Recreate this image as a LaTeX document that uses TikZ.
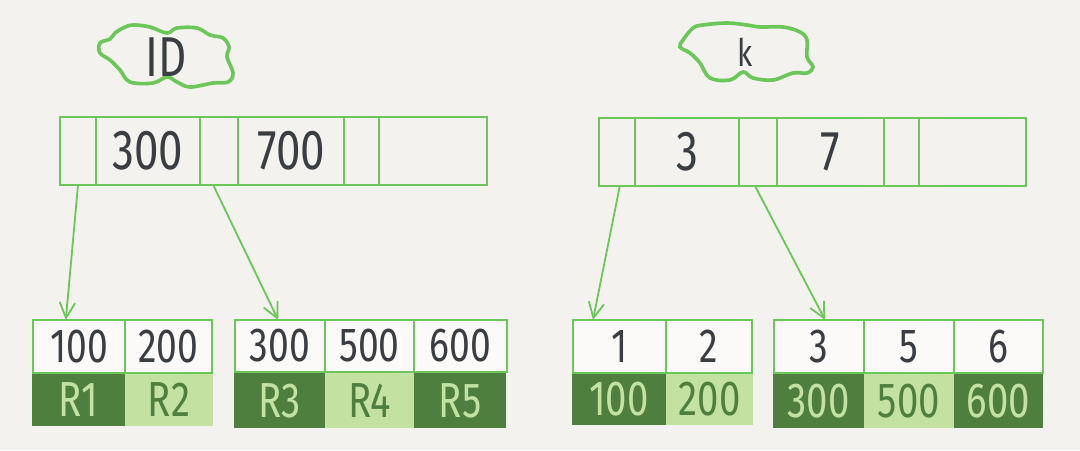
\documentclass[tikz,border=0pt]{standalone}
\usepackage{fontspec}
\setmainfont{Fira Sans}[FakeStretch=0.78]
\usetikzlibrary{arrows.meta}
\definecolor{bg}{HTML}{F4F2EE}
\definecolor{gline}{HTML}{6CC75A}
\definecolor{dgreen}{HTML}{4F7F3F}
\definecolor{lgreen}{HTML}{C3E2A2}
\definecolor{ink}{HTML}{3A3E43}
\newcommand\cellnode[7]{%
  \pgfmathsetmacro\cw{(#4-#2)*0.025}%
  \pgfmathsetmacro\ch{(#5-#3)*0.025}%
  \node[#6, minimum width=\cw cm, minimum height=\ch cm] (#1) at ({(#2+#4)/2},{(#3+#5)/2}) {#7};%
}
\tikzset{
  cellbox/.style={draw=gline, line width=1.4pt, fill=bg, inner sep=0pt, outer sep=0pt, text=ink},
  leafbox/.style={draw=gline, line width=1.4pt, fill=white!60!bg, inner sep=0pt, outer sep=0pt, text=ink, font=\fontsize{34}{35}\selectfont},
  darkcell/.style={fill=dgreen, inner sep=0pt, outer sep=0pt, text=lgreen, font=\fontsize{35}{36}\selectfont},
  lightcell/.style={fill=lgreen, inner sep=0pt, outer sep=0pt, text=dgreen, font=\fontsize{35}{36}\selectfont},
  ptr/.style={draw=gline, line width=1.3pt, -{Straight Barb[length=11pt,width=11pt,line width=1.3pt]}},
  cloudline/.style={draw=gline, line width=2.6pt, fill=bg},
  big/.style={font=\fontsize{40}{41}\selectfont}
}
\begin{document}
\begin{tikzpicture}[x=0.025cm, y=-0.025cm]
\useasboundingbox[fill=bg] (0,0) rectangle (1080,450);

% clouds
\draw[cloudline] plot[smooth cycle, tension=0.6] coordinates {
 (100,43) (110,39) (115,33) (123,28) (133,25) (150,27) (167,33) (177,28) (197,28)
 (210,35) (223,38) (229,47) (227,57) (233,73) (228,82) (213,83) (190,87) (177,82)
 (167,77) (153,83) (130,82) (120,70) (110,60) (100,53)};
\node[text=ink, big] (idlbl) at (166,57) {ID};

\draw[cloudline] plot[smooth cycle, tension=0.6] coordinates {
 (683,40) (693,28) (703,25) (727,23) (747,25) (760,27) (783,27) (800,32) (807,40)
 (807,57) (813,67) (807,73) (793,73) (773,80) (753,78) (743,72) (730,80) (710,78)
 (700,63) (690,53) (680,47)};
\node[text=ink, font=\fontsize{27}{28}\selectfont] (klbl) at (745,52) {k};

% top row left
\cellnode{lp1}{60}{117}{96}{185}{cellbox}{}
\cellnode{lk1}{96}{117}{200}{185}{cellbox,big}{300}
\cellnode{lp2}{200}{117}{238}{185}{cellbox}{}
\cellnode{lk2}{238}{117}{344}{185}{cellbox,big}{700}
\cellnode{lp3}{344}{117}{379}{185}{cellbox}{}
\cellnode{lk3}{379}{117}{487}{185}{cellbox}{}

% top row right
\cellnode{rp1}{599}{118}{635}{186}{cellbox}{}
\cellnode{rk1}{635}{118}{739}{186}{cellbox,big}{3}
\cellnode{rp2}{739}{118}{777}{186}{cellbox}{}
\cellnode{rk2}{777}{118}{884}{186}{cellbox,big}{7}
\cellnode{rp3}{884}{118}{919}{186}{cellbox}{}
\cellnode{rk3}{919}{118}{1026}{186}{cellbox}{}

% leaves left
\cellnode{a1}{33}{320}{125}{373}{leafbox}{100}
\cellnode{a2}{125}{320}{212}{373}{leafbox}{200}
\cellnode{ar1}{32}{374}{125}{426}{darkcell}{R1}
\cellnode{ar2}{125}{374}{213}{426}{lightcell}{R2}

\cellnode{b1}{235}{320}{325}{372}{leafbox}{300}
\cellnode{b2}{325}{320}{414}{372}{leafbox}{500}
\cellnode{b3}{414}{320}{507}{372}{leafbox}{600}
\cellnode{br1}{234}{373}{325}{428}{darkcell}{R3}
\cellnode{br2}{325}{373}{414}{428}{lightcell}{R4}
\cellnode{br3}{414}{373}{506}{428}{darkcell}{R5}

% leaves right
\cellnode{c1}{573}{320}{666}{373}{leafbox}{1}
\cellnode{c2}{666}{320}{752}{373}{leafbox}{2}
\cellnode{cr1}{572}{374}{666}{425}{darkcell}{100}
\cellnode{cr2}{666}{374}{753}{425}{lightcell}{200}

\cellnode{d1}{774}{320}{864}{373}{leafbox}{3}
\cellnode{d2}{864}{320}{954}{373}{leafbox}{5}
\cellnode{d3}{954}{320}{1043}{373}{leafbox}{6}
\cellnode{dr1}{773}{374}{864}{428}{darkcell}{300}
\cellnode{dr2}{864}{374}{954}{428}{lightcell}{500}
\cellnode{dr3}{954}{374}{1043}{428}{darkcell}{600}

% pointers
\draw[ptr] ([xshift=0.45cm]lp1.south west) -- ([xshift=0.82cm]a1.north west);
\draw[ptr] ([xshift=0.33cm]lp2.south west) -- ([xshift=1.08cm]b1.north west);
\draw[ptr] ([xshift=0.52cm]rp1.south west) -- ([xshift=0.5cm]c1.north west);
\draw[ptr] ([xshift=0.4cm]rp2.south west) -- ([xshift=1.28cm]d1.north west);
\end{tikzpicture}
\end{document}
